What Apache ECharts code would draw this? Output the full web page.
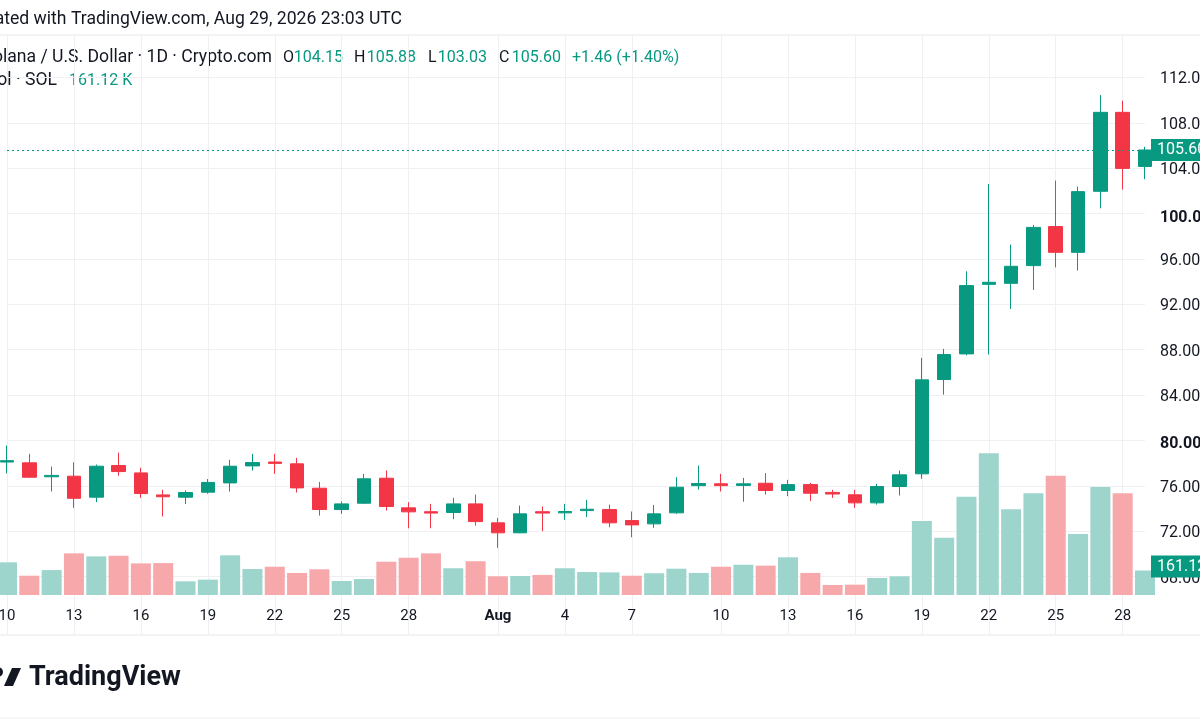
<!DOCTYPE html>
<html>
<head>
<meta charset="utf-8">
<title>Solana / U.S. Dollar 1D</title>
<script src="https://cdn.jsdelivr.net/npm/echarts@6/dist/echarts.min.js"></script>
<style>
    html, body { margin: 0; padding: 0; background: #fff; }
    #main { width: 1200px; height: 720px; }
</style>
</head>
<body>
<div id="main"></div>
<script>
    // daily candles
    var dates = [
        'Jul 10','Jul 11','Jul 12','Jul 13','Jul 14','Jul 15','Jul 16','Jul 17','Jul 18','Jul 19','Jul 20',
        'Jul 21','Jul 22','Jul 23','Jul 24','Jul 25','Jul 26','Jul 27','Jul 28','Jul 29','Jul 30','Jul 31',
        'Aug 1','Aug 2','Aug 3','Aug 4','Aug 5','Aug 6','Aug 7','Aug 8','Aug 9','Aug 10',
        'Aug 11','Aug 12','Aug 13','Aug 14','Aug 15','Aug 16','Aug 17','Aug 18','Aug 19','Aug 20',
        'Aug 21','Aug 22','Aug 23','Aug 24','Aug 25','Aug 26','Aug 27','Aug 28','Aug 29','Aug 30'
    ];
    var opens = [
        78.10, 78.03, 76.80, 76.85, 75.00, 77.79, 77.14, 75.20, 75.00, 75.44,
        76.26, 77.76, 78.10, 77.94, 75.79, 73.91, 74.47, 76.67, 74.06, 73.72,
        73.65, 74.41, 72.74, 71.86, 73.72, 73.62, 73.82, 73.91, 72.94, 72.65,
        73.62, 76.02, 76.18, 76.04, 76.23, 75.59, 76.11, 75.42, 75.21, 74.50,
        75.94, 77.06, 85.37, 87.63, 93.76, 93.85, 95.41, 98.85, 96.58, 101.96,
        108.92, 104.15
    ];
    var closes = [
        78.22, 76.76, 76.92, 74.90, 77.73, 77.26, 75.32, 75.04, 75.41, 76.30,
        77.73, 78.05, 77.98, 75.82, 73.91, 74.41, 76.62, 74.18, 73.71, 73.60,
        74.41, 72.85, 71.86, 73.53, 73.60, 73.74, 73.94, 72.74, 72.56, 73.53,
        75.88, 76.20, 76.02, 76.18, 75.59, 76.11, 75.35, 75.28, 74.50, 75.94,
        76.97, 85.34, 87.57, 93.65, 93.94, 95.35, 98.78, 96.58, 101.93, 108.92,
        103.98, 105.60
    ];
    var lows = [
        77.10, 76.70, 75.50, 74.06, 74.56, 76.90, 74.94, 73.30, 74.40, 75.30,
        75.50, 77.35, 77.06, 75.41, 73.38, 73.53, 74.41, 73.82, 72.26, 72.26,
        73.06, 72.50, 70.54, 71.83, 72.00, 73.00, 73.24, 72.35, 71.47, 72.30,
        73.53, 75.67, 75.50, 74.60, 75.23, 75.09, 74.65, 74.94, 74.06, 74.35,
        75.15, 76.62, 84.04, 87.50, 87.57, 91.59, 93.27, 95.26, 94.97, 100.46,
        102.11, 103.03
    ];
    var highs = [
        79.55, 78.82, 77.70, 78.08, 77.88, 78.93, 77.60, 75.65, 75.59, 76.60,
        78.30, 78.82, 78.82, 78.47, 76.35, 74.62, 77.06, 77.35, 74.56, 74.41,
        74.94, 75.23, 73.18, 74.26, 74.18, 74.41, 74.77, 74.35, 73.74, 74.32,
        76.76, 77.79, 77.06, 76.70, 77.12, 76.53, 76.26, 75.65, 75.65, 76.18,
        77.35, 87.28, 88.07, 94.91, 102.60, 97.26, 99.00, 102.90, 102.37, 110.45,
        109.95, 105.88
    ];
    // volume in thousands of SOL, and whether the bar is drawn as an up bar
    var volumes = [
        215, 127, 164, 274, 254, 258, 208, 210, 90, 101,
        261, 171, 186, 145, 169, 92, 105, 219, 245, 274,
        176, 222, 123, 125, 132, 176, 151, 149, 127, 143,
        173, 145, 186, 199, 193, 248, 145, 66, 68, 112,
        123, 487, 377, 646, 932, 564, 669, 785, 401, 710,
        669, 161.12
    ];
    var volUp = [
        1, 0, 1, 0, 1, 0, 0, 0, 1, 1,
        1, 1, 0, 0, 0, 1, 1, 0, 0, 0,
        1, 0, 0, 1, 0, 1, 1, 1, 0, 1,
        1, 1, 0, 1, 0, 1, 0, 0, 0, 1,
        1, 1, 1, 1, 1, 1, 1, 0, 1, 1,
        0, 1
    ];
    // x-axis labels as printed under the chart
    var tickIndex = [0, 3, 6, 9, 12, 15, 18, 22, 25, 28, 32, 35, 38, 41, 44, 47, 50];
    var tickText = ['10', '13', '16', '19', '22', '25', '28', 'Aug', '4', '7', '10', '13', '16', '19', '22', '25', '28'];
    var boldPrices = [80, 100];

    var UP = '#089981';
    var DOWN = '#f23645';
    var TEXT = '#131722';
    var GRIDLINE = '#eef0f3';
    var FONT = 'Roboto, "Noto Sans", sans-serif';
    var HFONT = '17.6px ' + FONT;
    var VFONT = '16px ' + FONT;

    var candles = [];
    var vols = [];
    for (var i = 0; i < dates.length; i++) {
        candles.push([opens[i], closes[i], lows[i], highs[i]]);
        vols.push({
            value: volumes[i],
            itemStyle: { color: volUp[i] ? '#9dd5cc' : '#f7a8ab' }
        });
    }
    var last = dates.length - 1;

    function isTick(index) {
        return tickIndex.indexOf(index) >= 0;
    }

    function headText(x, text, color, align) {
        return {
            type: 'text', x: x, y: 58,
            style: { text: text, font: VFONT, fill: color, align: align, verticalAlign: 'middle' }
        };
    }

    // green price tag on the right scale
    function tag(text, dy) {
        return {
            position: 'end', distance: 6,
            offset: [0, dy],
            formatter: text,
            backgroundColor: UP, color: '#fff',
            fontSize: 16, fontFamily: FONT, padding: [3, 6]
        };
    }

    var chart = echarts.init(document.getElementById('main'), null, { renderer: 'canvas' });

    var option = {
        animation: false,
        backgroundColor: '#ffffff',
        textStyle: { fontFamily: FONT },
        grid: [
            // price pane: 64..116 spans y 32..622
            { left: 7, right: 55, top: 32, bottom: 98, outerBoundsMode: 'none', containLabel: false },
            // volume pane + date axis
            { left: 7, right: 55, top: 35, bottom: 125, outerBoundsMode: 'none', containLabel: false }
        ],
        xAxis: [
            {
                type: 'category', gridIndex: 0, data: dates, boundaryGap: false,
                axisLine: { show: false }, axisTick: { show: false },
                axisLabel: { show: false }, splitLine: { show: false }
            },
            {
                type: 'category', gridIndex: 1, data: dates, boundaryGap: false,
                axisLine: { show: false },
                axisTick: {
                    show: true, length: 40, interval: isTick,
                    lineStyle: { color: GRIDLINE }
                },
                splitLine: {
                    show: true, interval: isTick,
                    lineStyle: { color: GRIDLINE }
                },
                axisLabel: {
                    interval: isTick,
                    margin: 14,
                    fontSize: 15,
                    color: TEXT,
                    fontFamily: FONT,
                    formatter: function (value, index) {
                        var t = tickText[tickIndex.indexOf(index)];
                        return t === 'Aug' ? '{b|Aug}' : t;
                    },
                    rich: { b: { fontWeight: 'bold', fontSize: 15, color: TEXT, fontFamily: FONT } }
                }
            }
        ],
        yAxis: [
            {
                type: 'value', gridIndex: 0, position: 'right',
                min: 64, max: 116, interval: 4,
                axisLine: { show: false }, axisTick: { show: false },
                splitLine: {
                    show: true, showMinLine: false, showMaxLine: false,
                    lineStyle: { color: GRIDLINE }
                },
                axisLabel: {
                    showMinLabel: false, showMaxLabel: false,
                    margin: 15, fontSize: 16, color: TEXT, fontFamily: FONT,
                    padding: [4, 0, 0, 0],
                    formatter: function (v) {
                        var s = v.toFixed(2);
                        return boldPrices.indexOf(v) >= 0 ? '{b|' + s + '}' : s;
                    },
                    rich: { b: { fontWeight: 'bold', fontSize: 16, color: TEXT, fontFamily: FONT, padding: [4, 0, 0, 0] } }
                }
            },
            {
                type: 'value', gridIndex: 1, min: 0, max: 3683, show: false,
                splitLine: { show: false }
            }
        ],
        series: [
            {
                name: 'Volume',
                type: 'bar',
                xAxisIndex: 1, yAxisIndex: 1,
                data: vols,
                barWidth: 20,
                clip: false,
                silent: true,
                markLine: {
                    silent: true,
                    symbol: 'none',
                    lineStyle: { color: 'rgba(0,0,0,0)', width: 1, type: 'solid' },
                    label: tag(volumes[last].toFixed(2) + 'K', -4),
                    data: [{ yAxis: volumes[last] }],
                    z: 20
                }
            },
            {
                name: 'SOLUSD',
                type: 'candlestick',
                xAxisIndex: 0, yAxisIndex: 0,
                data: candles,
                barWidth: 14,
                clip: false,
                silent: true,
                itemStyle: {
                    color: UP, color0: DOWN,
                    borderColor: UP, borderColor0: DOWN,
                    borderWidth: 1
                },
                markLine: {
                    silent: true,
                    symbol: 'none',
                    lineStyle: { type: [2, 3], color: UP, width: 1 },
                    label: tag(closes[last].toFixed(2), 0),
                    data: [{ yAxis: closes[last] }]
                }
            }
        ],
        graphic: [
            // header
            { type: 'line', shape: { x1: 0, y1: 35, x2: 1200, y2: 35 }, style: { stroke: '#e6e8ec', lineWidth: 1 }, silent: true },
            {
                type: 'text', x: 402, y: 20,
                style: { text: 'Created with TradingView.com, Aug 29, 2026 23:03 UTC', font: HFONT, fill: TEXT, align: 'right', verticalAlign: 'middle' }
            },
            {
                type: 'text', x: 272, y: 58,
                style: { text: 'Solana / U.S. Dollar · 1D · Crypto.com', font: HFONT, fill: TEXT, align: 'right', verticalAlign: 'middle' }
            },
            headText(283, 'O', TEXT, 'left'),
            headText(343, opens[last].toFixed(2), UP, 'right'),
            headText(354, 'H', TEXT, 'left'),
            headText(416, highs[last].toFixed(2), UP, 'right'),
            headText(428, 'L', TEXT, 'left'),
            headText(487, lows[last].toFixed(2), UP, 'right'),
            headText(499, 'C', TEXT, 'left'),
            headText(561, closes[last].toFixed(2), UP, 'right'),
            headText(572, '+1.46 (+1.40%)', UP, 'left'),
            {
                type: 'text', x: 57, y: 81,
                style: { text: 'Vol · SOL', font: HFONT, fill: TEXT, align: 'right', verticalAlign: 'middle' }
            },
            {
                type: 'text', x: 69, y: 81,
                style: { text: volumes[last].toFixed(2) + ' K', font: VFONT, fill: UP, verticalAlign: 'middle' }
            },
            // footer
            { type: 'line', shape: { x1: 0, y1: 635, x2: 1200, y2: 635 }, style: { stroke: '#e6e8ec', lineWidth: 1 }, silent: true },
            { type: 'line', shape: { x1: 0, y1: 718, x2: 1200, y2: 718 }, style: { stroke: '#eceef1', lineWidth: 1 }, silent: true },
            { type: 'circle', shape: { cx: -2, cy: 672, r: 5 }, style: { fill: TEXT }, silent: true },
            { type: 'polygon', shape: { points: [[12, 668], [21, 668], [13, 686], [4, 686]] }, style: { fill: TEXT }, silent: true },
            {
                type: 'text', x: 29, y: 678,
                style: { text: 'TradingView', font: 'bold 27px ' + FONT, fill: TEXT, verticalAlign: 'middle' }
            }
        ]
    };
    chart.setOption(option);
</script>
</body>
</html>
